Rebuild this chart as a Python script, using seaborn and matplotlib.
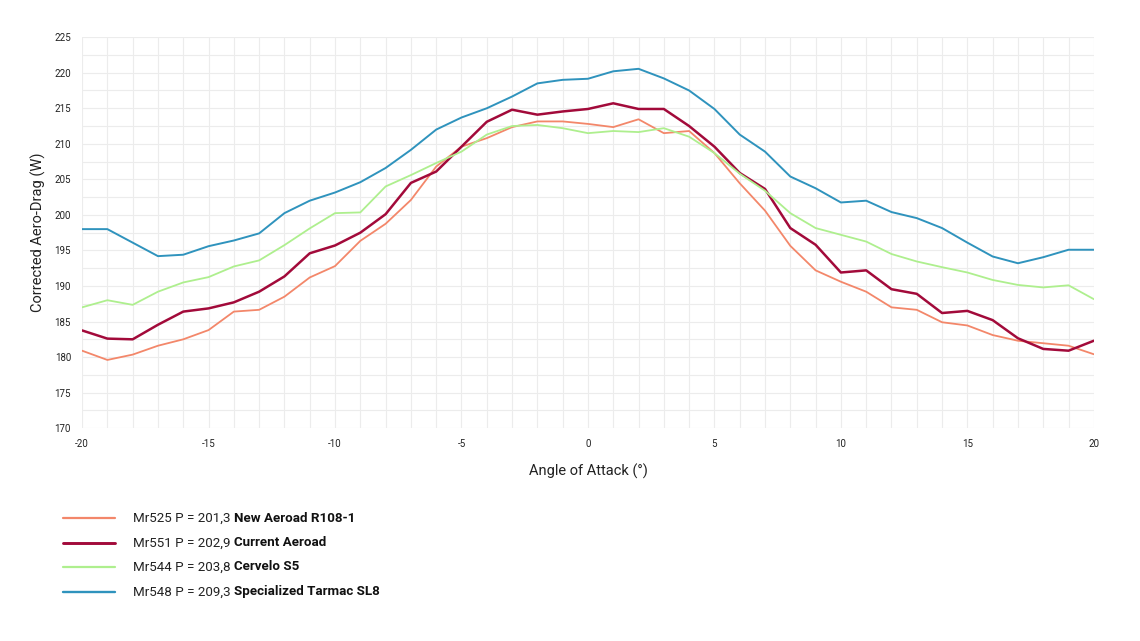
import matplotlib
matplotlib.use("Agg")
import matplotlib.pyplot as plt
import numpy as np
import pandas as pd
import seaborn as sns
from matplotlib.lines import Line2D

# angle of attack in degrees, one reading per degree
angle = list(range(-20, 21))

new_aeroad = [180.9, 179.6, 180.35, 181.6, 182.5, 183.8, 186.4, 186.65, 188.5, 191.2,
              192.8, 196.35, 198.75, 202.1, 206.8, 209.6, 210.8, 212.35, 213.15, 213.15,
              212.8, 212.35, 213.45, 211.5, 211.8, 208.7, 204.45, 200.6, 195.65, 192.2,
              190.6, 189.2, 187.0, 186.65, 184.9, 184.45, 183.1, 182.3, 181.95, 181.6, 180.4]
current_aeroad = [183.75, 182.6, 182.5, 184.55, 186.4, 186.85, 187.7, 189.2, 191.35, 194.6,
                  195.7, 197.5, 200.1, 204.5, 206.1, 209.6, 213.1, 214.8, 214.1, 214.55,
                  214.9, 215.7, 214.9, 214.9, 212.5, 209.6, 205.9, 203.65, 198.15, 195.8,
                  191.9, 192.2, 189.55, 188.9, 186.2, 186.5, 185.2, 182.65, 181.15, 180.9, 182.3]
cervelo_s5 = [187.0, 188.0, 187.35, 189.2, 190.5, 191.25, 192.75, 193.6, 195.75, 198.1,
              200.25, 200.35, 204.0, 205.6, 207.3, 208.9, 211.3, 212.5, 212.65, 212.2,
              211.5, 211.8, 211.65, 212.2, 211.0, 208.7, 205.8, 203.4, 200.25, 198.15,
              197.2, 196.25, 194.5, 193.45, 192.65, 191.9, 190.85, 190.15, 189.8, 190.1, 188.15]
tarmac_sl8 = [198.0, 198.0, 196.1, 194.2, 194.4, 195.6, 196.4, 197.4, 200.25, 202.0,
              203.15, 204.6, 206.6, 209.15, 212.0, 213.7, 215.0, 216.65, 218.5, 219.0,
              219.15, 220.2, 220.55, 219.2, 217.5, 214.9, 211.3, 208.9, 205.4, 203.75,
              201.75, 202.0, 200.4, 199.55, 198.15, 196.1, 194.15, 193.2, 194.05, 195.1, 195.1]

series_names = ["New Aeroad R108-1", "Current Aeroad", "Cervelo S5", "Specialized Tarmac SL8"]
series_prefix = ["Mr525 P = 201,3", "Mr551 P = 202,9", "Mr544 P = 203,8", "Mr548 P = 209,3"]
colors = ["#f3876a", "#a20a3a", "#aeef8e", "#2f93bd"]
widths = [1.3, 1.8, 1.3, 1.4]

rows = []
for name, vals in zip(series_names, [new_aeroad, current_aeroad, cervelo_s5, tarmac_sl8]):
    for a, v in zip(angle, vals):
        rows.append({"angle": a, "drag": v, "bike": name})
df = pd.DataFrame(rows)

sns.set_style("white")
plt.rcParams["font.family"] = ["Roboto", "DejaVu Sans"]

fig = plt.figure(figsize=(11.4, 6.41), dpi=100)
ax = fig.add_axes([0.072, 0.332, 0.8875, 0.61])

for name, c, w in zip(series_names, colors, widths):
    sns.lineplot(data=df[df["bike"] == name], x="angle", y="drag", color=c,
                 linewidth=w, ax=ax, legend=False)

ax.set_xlim(-20, 20)
ax.set_ylim(170, 225)
ax.set_xticks(range(-20, 21, 5))
ax.set_yticks(range(170, 226, 5))
ax.set_xticks(range(-20, 21, 1), minor=True)
ax.set_yticks(np.arange(170, 225.1, 2.5), minor=True)
ax.grid(True, which="both", color="#ececec", linewidth=0.8)
ax.set_axisbelow(True)
for s in ax.spines.values():
    s.set_visible(False)
ax.tick_params(which="both", length=0, labelsize=7, colors="#222222", pad=8)
ax.set_xticklabels([str(t) for t in range(-20, 21, 5)])
ax.set_xlabel("Angle of Attack (°)", fontsize=10.5, color="#222222", labelpad=10)
ax.set_ylabel("Corrected Aero-Drag (W)", fontsize=10.5, color="#222222", labelpad=6)

# custom legend with normal + bold text
fig.canvas.draw()
renderer = fig.canvas.get_renderer()
legend_y = [518, 543, 567, 592]
H, W = 641, 1140
for py, pre, name, c, w in zip(legend_y, series_prefix, series_names, colors, widths):
    yf = 1 - py / H
    fig.add_artist(Line2D([63 / W, 115 / W], [yf, yf], color=c, linewidth=w + 0.3))
    t = fig.text(133 / W, yf, pre + " ", fontsize=9.6, color="#222222", va="center")
    bb = t.get_window_extent(renderer)
    fig.text(bb.x1 / W, yf, name, fontsize=9.6, color="#111111", va="center",
             fontweight="bold")

fig.savefig("out.png", dpi=100)
